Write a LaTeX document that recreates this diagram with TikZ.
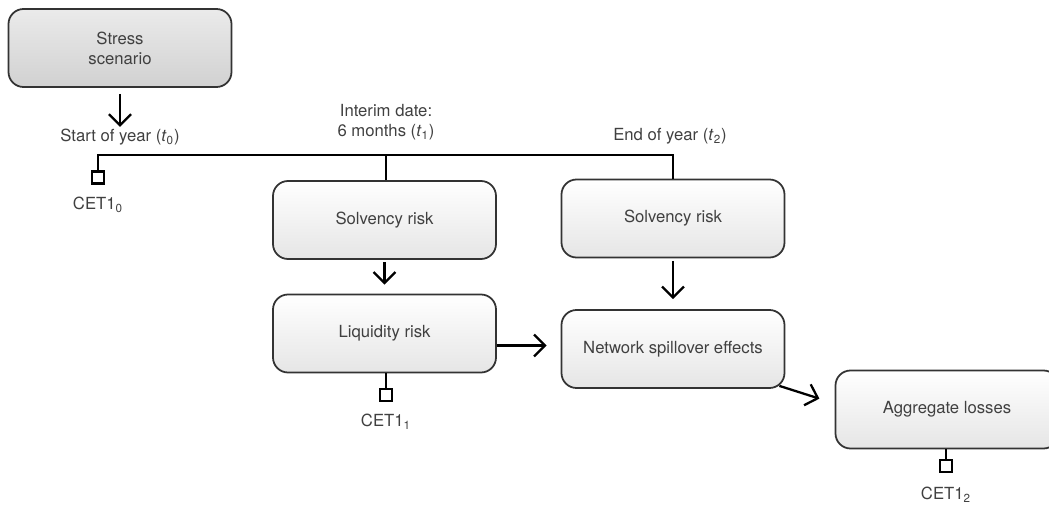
\documentclass[tikz,border=0pt]{standalone}
\usepackage{fontspec}
\setmainfont{TeX Gyre Heros}
\usetikzlibrary{arrows.meta,positioning}

\begin{document}
\begin{tikzpicture}[
    riskbox/.style={rectangle, rounded corners=0.3cm, draw=black!80, line width=1pt, top color=white, bottom color=black!10, minimum width=4.46cm, minimum height=1.56cm, align=center, text=black!75, font=\fontsize{9.5}{11.5}\selectfont},
    scenariobox/.style={riskbox, top color=black!8, bottom color=black!18},
    datelabel/.style={align=center, text=black!75, font=\fontsize{9.5}{11.5}\selectfont, inner sep=1pt},
    capmark/.style={rectangle, draw=black, line width=1.3pt, minimum size=0.24cm, inner sep=0pt},
    flow/.style={-{Straight Barb[length=0.22cm, width=0.44cm, line width=1.3pt]}, line width=1.3pt},
    link/.style={line width=1.3pt}
]
    \useasboundingbox (0,0) rectangle (20.98,-10.16);

    % Create nodes
    \node[scenariobox] (stress) at (2.40,-0.96) {Stress\\scenario};
    \node[riskbox] (solv1) at (7.69,-4.40) {Solvency risk};
    \node[riskbox] (liq) at (7.69,-6.67) {Liquidity risk};
    \node[riskbox] (solv2) at (13.46,-4.37) {Solvency risk};
    \node[riskbox] (net) at (13.46,-6.98) {Network spillover effects};
    \node[riskbox] (agg) at (18.94,-8.19) {Aggregate losses};

    % Dates on the time line
    \node[datelabel] (t0) at (2.40,-2.74) {Start of year (\textit{t}\textsubscript{0})};
    \node[datelabel] (t1) at (7.72,-2.44) {Interim date:\\6 months (\textit{t}\textsubscript{1})};
    \node[datelabel] (t2) at (13.40,-2.72) {End of year (\textit{t}\textsubscript{2})};
    \coordinate (left) at (1.96,-3.10);
    \coordinate (right) at (13.46,-3.10);

    % Capital markers
    \node[capmark] (sq0) at (1.96,-3.55) {};
    \node[capmark] (sq1) at (7.72,-7.90) {};
    \node[capmark] (sq2) at (18.92,-9.32) {};
    \node[datelabel] (cet0) at (1.96,-4.10) {CET1\textsubscript{0}};
    \node[datelabel] (cet1) at (7.72,-8.44) {CET1\textsubscript{1}};
    \node[datelabel] (cet2) at (18.92,-9.90) {CET1\textsubscript{2}};

    % Time line
    \draw[link] (sq0.north) -- (left) -- (right) -- (solv2.north);
    \draw[link] (solv1.north -| t1) -- (t1 |- left);

    % Connect nodes with arrows
    \draw[flow, shorten <=0.12cm] (stress.south) -- (t0.north);
    \draw[flow, shorten <=0.05cm, shorten >=0.18cm] (solv1.south) -- (liq.north);
    \draw[flow, shorten <=0.05cm, shorten >=0.2cm] (solv2.south) -- (net.north);
    \draw[flow, shorten >=0.28cm] ([yshift=-0.24cm]liq.east) -- ([yshift=-0.24cm]liq.east -| net.west);
    \draw[flow, shorten >=0.32cm] ([xshift=-0.12cm, yshift=0.06cm]net.south east) -- ([yshift=0.12cm]agg.west);

    % Capital links
    \draw[link] (liq.south -| sq1) -- (sq1.north);
    \draw[link] (agg.south -| sq2) -- (sq2.north);
\end{tikzpicture}
\end{document}
